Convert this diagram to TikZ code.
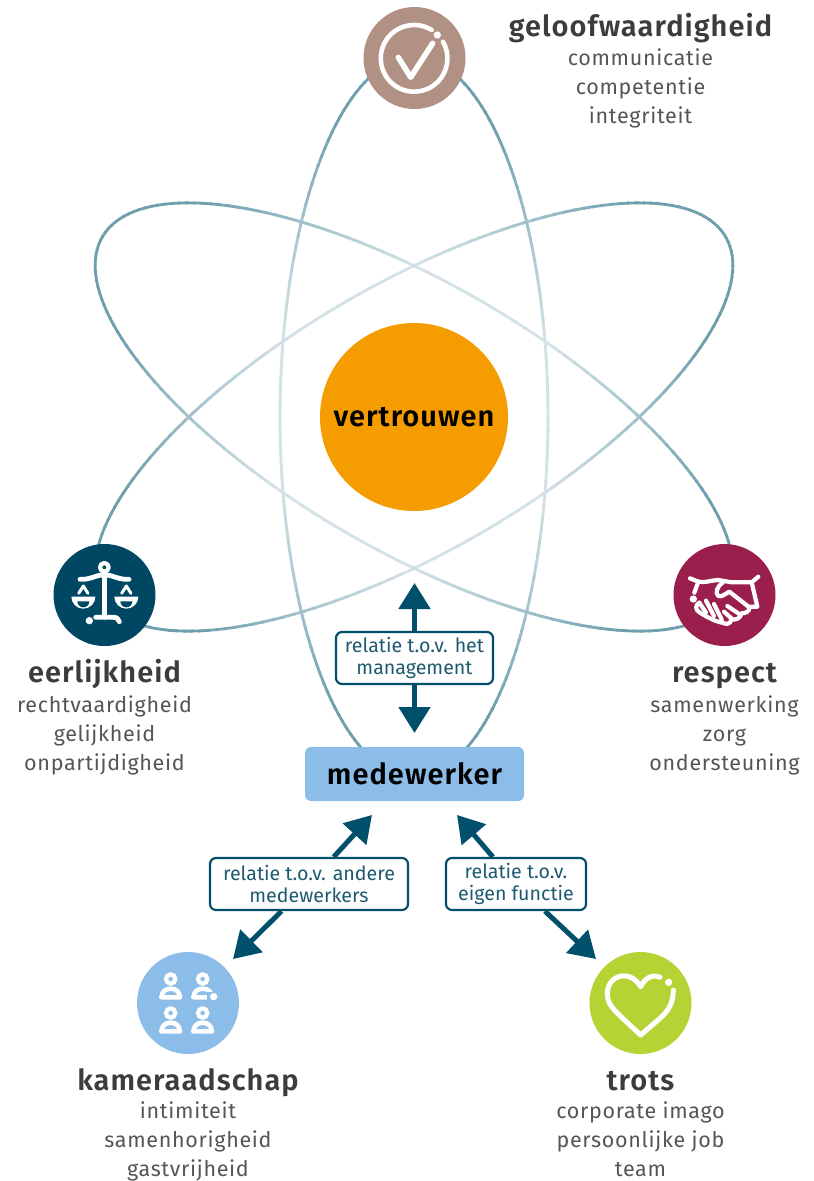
\documentclass[tikz,border=0pt]{standalone}
\usepackage{fontspec}
\setmainfont{Fira Sans}
\newfontfamily\ttlfont[LetterSpace=3.6]{Fira Sans SemiBold}
\newfontfamily\bodyfont[LetterSpace=3.2]{Fira Sans}
\usetikzlibrary{arrows.meta}
\definecolor{ringdark}{HTML}{6F9FAF}
\definecolor{ringlight}{HTML}{D3E2E6}
\definecolor{cbrown}{HTML}{B09184}
\definecolor{cnavy}{HTML}{004763}
\definecolor{cmaroon}{HTML}{9B1F4C}
\definecolor{cblue}{HTML}{8BBDE8}
\definecolor{clime}{HTML}{B5D334}
\definecolor{corange}{HTML}{F59C00}
\definecolor{carrow}{HTML}{00506B}
\definecolor{ctitle}{HTML}{3C3C3C}
\definecolor{cbody}{HTML}{555555}
\definecolor{clabel}{HTML}{1D5A70}
\tikzset{
  disc/.style={circle,inner sep=0pt,minimum size=102pt,fill=#1},
  ttl/.style={inner sep=0pt,text=ctitle,font=\fontsize{29}{32}\selectfont\ttlfont,anchor=base},
  bodytext/.style={inner sep=0pt,text=cbody,align=center,anchor=north,font=\fontsize{21.5}{29}\selectfont\bodyfont},
  lbl/.style={draw=carrow,line width=2.2pt,fill=white,rounded corners=6pt,inner sep=0pt,align=center,text=clabel,font=\fontsize{19.6}{22}\selectfont},
  arr/.style={draw=carrow,line width=5pt,-{Triangle[length=26pt,width=31pt]}},
  ico/.style={draw=white,line width=4.6pt,line cap=round,line join=round},
  icoB/.style={draw=white,line width=4.2pt,line cap=round,line join=round},
}
\begin{document}
\begin{tikzpicture}[x=1pt,y=-1pt]
\useasboundingbox (0,0) rectangle (814,1181);
% orbits
\foreach \rot in {90,30,-30}{
  \begin{scope}[shift={(414,417)},rotate=\rot]
  \foreach \t in {0,2,...,358}{
    \pgfmathsetmacro{\xa}{360*cos(\t)}
    \pgfmathsetmacro{\ya}{134*sin(\t)}
    \pgfmathsetmacro{\xb}{360*cos(\t+2.6)}
    \pgfmathsetmacro{\yb}{134*sin(\t+2.6)}
    \pgfmathsetmacro{\p}{min(100,max(0,(veclen(\xa,\ya)-150)/1.5))}
    \draw[line width=2.8pt,color=ringdark!\p!ringlight] (\xa,\ya) -- (\xb,\yb);
  }
  \end{scope}
}
% main nodes
\node[disc=cbrown] (geloof) at (414.5,58) {};
\node[disc=cnavy] (eerlijk) at (104.5,595) {};
\node[disc=cmaroon] (respect) at (724.5,595) {};
\node[disc=cblue] (kamer) at (188,1003) {};
\node[disc=clime] (trots) at (640.5,1003) {};
\node[circle,inner sep=0pt,minimum size=188pt,fill=corange,font=\fontsize{29}{32}\selectfont\ttlfont] (vertr) at (414,417) {vertrouwen};
\node[fill=cblue,rounded corners=6pt,minimum width=219pt,minimum height=54pt,inner sep=0pt,font=\fontsize{29}{32}\selectfont\ttlfont] (medew) at (414.5,774) {medewerker};
% labels
\node[lbl,minimum width=157pt,minimum height=52pt] (lblM) at (414.5,658) {\raisebox{-1pt}{relatie t.o.v. het}\\\raisebox{-1pt}{management}};
\node[lbl,minimum width=198pt,minimum height=52pt] (lblA) at (309,884) {\raisebox{-1pt}{relatie t.o.v. andere}\\\raisebox{-1pt}{medewerkers}};
\node[lbl,minimum width=140pt,minimum height=52pt] (lblE) at (516,884) {\raisebox{-1pt}{relatie t.o.v.}\\\raisebox{-1pt}{eigen functie}};
% arrows
\coordinate (tipMu) at (414.5,583);
\coordinate (tipMd) at (414.5,733);
\coordinate (tipAu) at (372,815);
\coordinate (tipAd) at (233,959);
\coordinate (tipEu) at (457,815);
\coordinate (tipEd) at (596,959);
\draw[arr] (lblM) -- (tipMu);
\draw[arr] (lblM) -- (tipMd);
\draw[arr] (lblA) -- (tipAu);
\draw[arr] (lblA) -- (tipAd);
\draw[arr] (lblE) -- (tipEu);
\draw[arr] (lblE) -- (tipEd);
% texts
\node[ttl] (t1) at (640.5,36) {geloofwaardigheid};
\node[bodytext] (b1) at (640.5,48.5) {communicatie\\competentie\\integriteit};
\node[ttl] (t2) at (104.5,682) {eerlijkheid};
\node[bodytext] (b2) at (104.5,695.5) {rechtvaardigheid\\gelijkheid\\onpartijdigheid};
\node[ttl] (t3) at (724.5,682) {respect};
\node[bodytext] (b3) at (724.5,695.5) {samenwerking\\zorg\\ondersteuning};
\node[ttl] (t4) at (188,1090) {kameraadschap};
\node[bodytext] (b4) at (188,1101.5) {intimiteit\\samenhorigheid\\gastvrijheid};
\node[ttl] (t5) at (640.5,1090) {trots};
\node[bodytext] (b5) at (640.5,1101.5) {corporate imago\\persoonlijke job\\team};
% check icon
\begin{scope}[shift={(340,0)},scale=1/3]
\draw[ico] (275,90) arc[start angle=-58.2,end angle=-390,radius=100];
\fill[white] (292,105) circle (11);
\draw[ico,line width=5.5pt] (175,172) -- (212,232) -- (278,130);
\end{scope}
% scales icon
\begin{scope}[shift={(30,530)},scale=1/3]
\draw[icoB] (223,112) circle (13);
\draw[icoB,line width=4.8pt] (223,127) -- (223,262);
\draw[icoB,line width=4.8pt] (150,148) .. controls (180,150) and (200,134) .. (223,134) .. controls (246,134) and (266,150) .. (297,148);
\draw[icoB,line width=4.8pt] (197,262) -- (250,262) .. controls (260,262) and (266,266) .. (268,275);
\fill[white] (178,272) circle (11);
\foreach \c in {160,289}{
  \fill[white] (\c-36,200) -- (\c+36,200) arc[start angle=0,end angle=180,radius=36] -- cycle;
  \fill[cnavy] (\c-18,214) -- (\c+18,214) arc[start angle=0,end angle=180,radius=18] -- cycle;
  \draw[white,line width=3pt,line cap=round,line join=round] (\c-14,190) -- (\c,168) -- (\c+14,190);
}
\end{scope}
% handshake icon
\begin{scope}[shift={(650,530)},scale=1/3]
\fill[white] (130,207) circle (11);
\draw[icoB] (120,145) -- (145,155) .. controls (165,160) and (185,150) .. (205,150) -- (245,157) -- (305,157) -- (325,140);
\draw[icoB] (145,155) -- (133,188);
\draw[icoB] (305,157) -- (322,230) -- (295,230);
\draw[icoB] (218,158) .. controls (200,170) and (195,190) .. (205,198) .. controls (215,202) and (225,192) .. (238,185) -- (298,232) .. controls (300,245) and (285,250) .. (275,250) .. controls (270,268) and (255,270) .. (245,268) .. controls (240,285) and (225,285) .. (215,275);
\draw[icoB] (148,218) .. controls (135,225) and (135,240) .. (150,248) -- (170,260) -- (195,272) -- (215,278);
\draw[icoB] (148,218) -- (168,248);
\draw[icoB] (168,212) -- (192,258);
\draw[icoB] (192,222) -- (215,268);
\draw[icoB] (232,228) -- (268,252);
\draw[icoB] (222,245) -- (245,266);
\end{scope}
% people icon
\begin{scope}[shift={(120,940)},scale=1/3]
\foreach \c/\h in {152/117,152/219,248/219,248/117}{
  \draw[white,line width=4.2pt] (\c,\h) circle (14);
  \filldraw[fill=cblue,draw=white,line width=4.6pt,line join=round] (\c-28,\h+55) .. controls (\c-26,\h+36) and (\c-14,\h+29) .. (\c,\h+29) .. controls (\c+14,\h+29) and (\c+26,\h+36) .. (\c+28,\h+55) -- cycle;
}
\fill[cblue] (262,155) rectangle (294,187);
\fill[white] (281,170) circle (11);
\end{scope}
% heart icon
\begin{scope}[shift={(570,940)},scale=1/3]
\draw[ico,line width=5pt] (270,112) .. controls (245,100) and (222,118) .. (212,140) .. controls (200,118) and (178,105) .. (155,108) .. controls (125,112) and (110,140) .. (112,165) .. controls (114,195) and (135,212) .. (155,232) -- (212,285) -- (270,235) .. controls (295,212) and (310,190) .. (310,150);
\fill[white] (296,127) circle (11);
\end{scope}
\end{tikzpicture}
\end{document}
